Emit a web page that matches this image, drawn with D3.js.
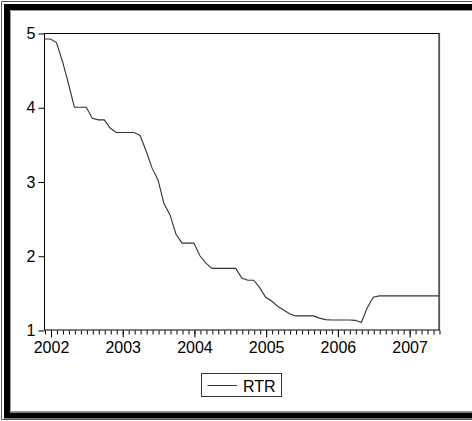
<!DOCTYPE html>
<html><head><meta charset="utf-8">
<script src="https://cdn.jsdelivr.net/npm/d3@7"></script>
<style>
html,body{margin:0;padding:0;background:#fff;}
svg{display:block;}
text{font-family:"Liberation Sans",Arial,sans-serif;}
</style></head>
<body>
<script>
// ---- data ----
const startYear = 2001, startMonth = 12; // first observation 2001M12
const values = [
  4.92,4.92,4.87,4.62,4.32,4.00,4.00,4.00,3.85,3.83,3.83,3.72,3.66,
  3.66,3.66,3.66,3.62,3.41,3.18,3.02,2.70,2.55,2.29,2.17,2.17,
  2.17,2.00,1.90,1.83,1.83,1.83,1.83,1.83,1.70,1.67,1.67,1.57,
  1.44,1.39,1.32,1.27,1.22,1.19,1.19,1.19,1.19,1.16,1.14,1.135,
  1.135,1.135,1.135,1.13,1.10,1.30,1.44,1.46,
  1.46,1.46,1.46,1.46,1.46,1.46,1.46,1.46,1.46,1.46
];
const yTicks = [1,2,3,4,5];
const yearLabels = ["2002","2003","2004","2005","2006","2007"];
const seriesName = "RTR";

// ---- layout ----
const W = 472, H = 421;
const svg = d3.select("body").append("svg").attr("width",W).attr("height",H);

// outer frame (left, top, bottom)
svg.append("path").attr("d",`M${W},1.5 H1.5 V419.5 H${W}`).attr("fill","none").attr("stroke","#555").attr("stroke-width",1);
svg.append("path").attr("d",`M${W},7 H7 V415.5 H${W}`).attr("fill","none").attr("stroke","#000").attr("stroke-width",6);
svg.append("path").attr("d",`M${W},10.5 H10.5 V411.5 H${W}`).attr("fill","none").attr("stroke","#999").attr("stroke-width",1);

const x = d3.scaleLinear().domain([0, values.length-1]).range([44.5, 439]);
const y = d3.scaleLinear().domain([1,5]).range([330, 33]);

// plot frame
svg.append("rect").attr("x",44.5).attr("y",33.5).attr("width",439-44.5).attr("height",330-33.5)
  .attr("fill","none").attr("stroke","#000").attr("stroke-width",1);
svg.append("line").attr("x1",439.5).attr("x2",439.5).attr("y1",33).attr("y2",331).attr("stroke","#555").attr("stroke-width",1.2);

// y axis
const yAxis = svg.append("g").attr("transform","translate(44.5,0.5)")
  .call(d3.axisLeft(y).tickValues(yTicks).tickSize(6).tickPadding(3).tickFormat(d3.format("d")));
yAxis.select(".domain").remove();
yAxis.selectAll("line").attr("stroke","#000");
yAxis.selectAll("text").attr("font-size",16).attr("fill","#000")
  .attr("font-family","'Liberation Sans',Arial,sans-serif");

// x axis minor ticks (monthly)
const idx = d3.range(values.length);
const xMinor = svg.append("g").attr("transform","translate(0.5,330.5)")
  .call(d3.axisBottom(x).tickValues(idx).tickSize(4).tickFormat(""));
xMinor.select(".domain").remove();
xMinor.selectAll("line").attr("stroke","#000");

// x axis major ticks (year starts)
const majorIdx = yearLabels.map(l => (+l - startYear)*12 + (1 - startMonth));
const xMajor = svg.append("g").attr("transform","translate(0.5,330.5)")
  .call(d3.axisBottom(x).tickValues(majorIdx).tickSize(7).tickPadding(4)
        .tickFormat((d,i) => yearLabels[i]));
xMajor.select(".domain").remove();
xMajor.selectAll("line").attr("stroke","#000");
xMajor.selectAll("text").attr("font-size",16).attr("fill","#000")
  .attr("font-family","'Liberation Sans',Arial,sans-serif");

// series line
const line = d3.line().x((d,i)=>x(i)).y(d=>y(d));
svg.append("path").datum(values).attr("d",line)
  .attr("fill","none").attr("stroke","#333").attr("stroke-width",1.1);

// legend
const lg = svg.append("g");
lg.append("rect").attr("x",201.5).attr("y",373.5).attr("width",80).attr("height",23)
  .attr("fill","#fff").attr("stroke","#333").attr("stroke-width",1);
lg.append("line").attr("x1",207.5).attr("x2",237).attr("y1",385.5).attr("y2",385.5)
  .attr("stroke","#333").attr("stroke-width",1);
lg.append("text").attr("x",243).attr("y",392).attr("font-size",16).attr("fill","#000").text(seriesName);
</script>
</body></html>
